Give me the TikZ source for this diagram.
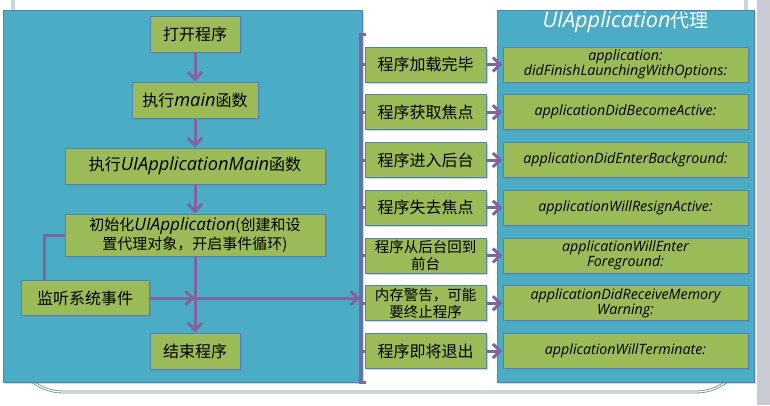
\documentclass[tikz,border=0pt]{standalone}
\usepackage{fontspec}
\setmainfont{Noto Sans CJK SC}
\newfontfamily\lat[Scale=1.14]{Open Sans}
\usetikzlibrary{arrows.meta,shadows}
\definecolor{panelc}{HTML}{4BACC6}
\definecolor{boxg}{HTML}{9BBB59}
\definecolor{boxb}{HTML}{4F81BD}
\definecolor{arrp}{HTML}{8064A2}
\definecolor{framec}{HTML}{6A8F90}
\definecolor{stripc}{HTML}{C9CAD3}
\newcommand{\li}[1]{{\lat\itshape #1}}
\begin{document}
\begin{tikzpicture}[x=1pt,y=-1pt,
  panelbox/.style={draw=boxb, fill=panelc, line width=0.8pt,
    drop shadow={shadow xshift=1.5pt, shadow yshift=-1.5pt, opacity=0.3}},
  gbox/.style={draw=boxb, fill=boxg, line width=1pt, inner sep=0pt, align=center, text=black,
    drop shadow={shadow xshift=1.5pt, shadow yshift=-1.5pt, opacity=0.35}},
  lbox/.style={gbox, minimum height=36pt, font=\fontsize{16}{19}\selectfont},
  mbox/.style={gbox, minimum width=121pt, minimum height=35pt, font=\fontsize{16}{19}\selectfont},
  mbox2/.style={mbox, font=\fontsize{14.5}{16.5}\selectfont},
  rbox/.style={gbox, minimum width=245pt, minimum height=35pt, font=\lat\itshape\fontsize{12.5}{15}\selectfont},
  arr/.style={draw=arrp, line width=3pt, -{Straight Barb[length=7.5pt,width=14pt]}},
  con/.style={draw=arrp, line width=3pt},
  framel/.style={draw=framec, line width=0.8pt, double=white, double distance=1.2pt}
]
\useasboundingbox (0,0) rectangle (770,405);
\fill[white] (0,0) rectangle (770,405);
\begin{scope}
\clip (0,0) rectangle (770,405);
\draw[framel, rounded corners=50pt] (13,-80) rectangle (746,392);
\fill[stripc] (757,0) rectangle (770,405);
\end{scope}

% panels
\node[panelbox, minimum width=359pt, minimum height=372pt, inner sep=0pt] (lpanel) at (182.5,196) {};
\node[panelbox, minimum width=257pt, minimum height=372pt, inner sep=0pt] (rpanel) at (625.5,196) {};
\node[text=white, font=\fontsize{19}{22}\selectfont] (title) at (625.5,22) {\li{UIApplication}代理};

% left flow
\node[lbox, minimum width=90pt] (open) at (195,34) {打开程序};
\node[lbox, minimum width=126pt] (main) at (195,100) {执行\li{main}函数};
\node[lbox, minimum width=260pt] (uimain) at (195,166) {执行\li{UIApplicationMain}函数};
\node[lbox, minimum width=260pt, minimum height=42pt, font=\fontsize{15}{19}\selectfont] (init) at (195,235) {初始化\li{UIApplication}(创建和设\\置代理对象，开启事件循环)};
\node[lbox, minimum width=128pt, minimum height=35pt] (listen) at (85,298) {监听系统事件};
\node[lbox, minimum width=90pt] (end) at (195,351) {结束程序};

\coordinate (jn) at (195,298);
\coordinate (lkx) at (44,0);
\coordinate (brtop) at (360,34);
\coordinate (brbot) at (360,382);
\coordinate (brtopR) at (366,34);
\coordinate (brbotR) at (366,382);

\draw[arr] (open.south) -- (main.north);
\draw[arr] (main.south) -- (uimain.north);
\draw[arr] (uimain.south) -- (init.north);
\draw[arr] (init.south) -- (end.north);
\draw[con] (init.west) -- (lkx |- init.west) -- (lkx |- listen.north);
\draw[arr] (listen.east) -- (jn);
\draw[arr] (jn) -- (jn -| brtop);

% bracket
\draw[con] (brtopR) -- (brtop) -- (brbot) -- (brbotR);

% middle and right boxes
\node[mbox] (m1) at (425.5,64.5) {程序加载完毕};
\node[mbox] (m2) at (425.5,112.25) {程序获取焦点};
\node[mbox] (m3) at (425.5,160) {程序进入后台};
\node[mbox] (m4) at (425.5,207.75) {程序失去焦点};
\node[mbox2] (m5) at (425.5,255.5) {程序从后台回到\\前台};
\node[mbox2] (m6) at (425.5,303.25) {内存警告，可能\\要终止程序};
\node[mbox] (m7) at (425.5,351) {程序即将退出};

\node[rbox] (r1) at (625.5,64.5) {application:\\didFinishLaunchingWithOptions:};
\node[rbox] (r2) at (625.5,112.25) {applicationDidBecomeActive:};
\node[rbox] (r3) at (625.5,160) {applicationDidEnterBackground:};
\node[rbox] (r4) at (625.5,207.75) {applicationWillResignActive:};
\node[rbox] (r5) at (625.5,255.5) {applicationWillEnter\\Foreground:};
\node[rbox] (r6) at (625.5,303.25) {applicationDidReceiveMemory\\Warning:};
\node[rbox] (r7) at (625.5,351) {applicationWillTerminate:};

\foreach \i in {1,...,7}{
  \draw[con] (m\i.west -| brtop) -- (m\i.west);
  \draw[arr] (m\i.east) -- (r\i.west);
}
\end{tikzpicture}
\end{document}
